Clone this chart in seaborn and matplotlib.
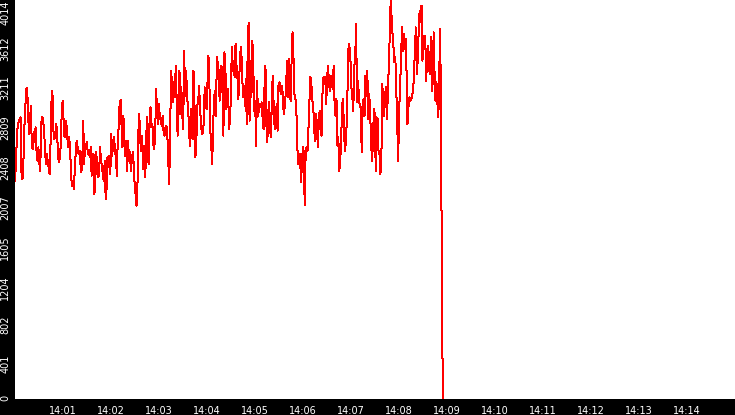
import numpy as np
import pandas as pd
import matplotlib
matplotlib.use("Agg")
import matplotlib.pyplot as plt
import matplotlib.dates as mdates
from matplotlib.transforms import ScaledTranslation
import seaborn as sns

# ---- data ----
values_a = [
    2197, 2364, 2632, 2766, 2783, 2817, 2833, 2247, 2214, 2381, 2733, 2934, 3118, 3128, 2867, 2666,
    2783, 2951, 2532, 2515, 2683, 2582, 2733, 2498, 2398, 2532, 2381, 2297, 2766, 2833, 2817, 2716,
    2532, 2364, 2465, 2398, 2331, 2264, 2565, 2984, 3101, 2716, 2616, 2632, 2766, 2699, 2448, 2381,
    2431, 2565, 2884, 3001, 2800, 2632, 2800, 2766, 2632, 2532, 2632, 2515, 2247, 2147, 2197, 2113,
    2314, 2482, 2599, 2532, 2465, 2498, 2364, 2281, 2398, 2800, 2364, 2565, 2549, 2582, 2465, 2482,
    2431, 2532, 2247, 2415, 2465, 2063, 2281, 2482, 2264, 2230, 2264, 2532, 2398, 2348, 2247, 2197,
    2398, 2013, 2113, 2431, 2331, 2448, 2264, 2666, 2448, 2582, 2632, 2498, 2431, 2247, 2632, 2733,
    2984, 3008, 2750, 2532, 2850, 2632, 2448, 2599, 2297, 2599, 2398, 2482, 2297, 2398, 2482, 2364,
    2163, 2063, 1946, 2130, 2683, 2867, 2599, 2498, 2649, 2314, 2549, 2230, 2364, 2833, 2482, 2364,
    2800, 2934, 2733, 2766, 2565, 2515, 2666, 3118, 2900, 2766, 2967, 2833, 2800, 2750, 2850, 2683,
    2649, 2733, 2750, 2666, 2398, 2163, 2666, 3303, 3185, 2984, 3185, 3034, 3353, 3001, 2649, 3034,
    3303, 2867, 3135, 2850, 2716, 3504, 3051, 3303, 3101, 2917, 2800, 2549, 2917, 2649, 2616, 3303,
    3001, 2431, 2565, 2951, 2984, 3152, 2917, 2783, 2666, 2683, 2783, 3135, 3001, 2917, 3185, 3453,
    3185, 2699, 2549, 2364, 2733, 3018, 3101, 2850, 3437, 3370, 3236, 3001, 3353, 3085, 3336, 2649,
    3487, 3403, 2917, 3118, 3118, 2716, 2800, 3034, 3537, 3303,
]
values_b = [
    3403, 3236, 3571, 3353, 3252, 3018, 3252, 3470, 3537, 3286, 3034, 3152, 2951, 3219, 2766, 3554,
    3788, 2800, 3403, 3034, 3604, 3336, 2900, 3001, 2549, 3202, 2850, 2900, 2967, 2934, 2984, 2817,
    2716, 3135, 3353, 2766, 2582, 2884, 2984, 2699, 2632, 3118, 3252, 2850, 2716, 2833, 2967, 2699,
    3169, 3185, 3101, 3068, 3152, 2934, 2867, 3001, 3085, 3403, 3034, 3420, 3051, 3001, 3420, 3688,
    3437, 3068, 3034, 2934, 2565, 2364, 2448, 2465, 2180, 2364, 2532, 2482, 1946, 2465, 2532, 2498,
    2716, 2967, 3236, 3202, 3001, 2984, 2750, 2599, 2867, 2783, 2532, 2766, 2900, 2716, 2649, 3068,
    3236, 3202, 3236, 2967, 3236, 3353, 3169, 3101, 3252, 3185, 3118, 3353, 2967, 2850, 3018, 2549,
    2632, 2297, 2398, 2599, 2951, 3018, 2716, 2498, 2582, 2783, 3185, 3571, 3537, 3403, 3135, 3034,
    2900, 3336, 3420, 3772, 2984, 3202, 3051, 2934, 2934, 2482, 2900, 3018, 2850, 3252, 3051, 3303,
    2817, 3068, 2900, 2599, 2398, 2565, 2917, 2867, 2297, 2833, 2817, 2498, 2465, 2264, 2364, 3169,
    2984, 2850, 3051, 3135, 2817, 3068, 3370, 3654, 4014, 3839, 3671, 3537, 3386, 3437, 3118, 2783,
    2398, 2850, 3169, 3353, 3738, 3504, 3671, 3520, 3621, 3286, 2766, 2934, 3034, 3001, 3018, 3051,
    3118, 3252, 3554, 3738, 3269, 3420, 3704, 3906, 3788, 3956, 3403, 3654, 3520, 3654, 3202, 3437,
    3554, 3336, 3269, 3638, 3101, 3185, 3688, 3252, 3001, 3185, 2984, 2833, 3286, 3721, 2632, 770, 0,
]
values = values_a + values_b
start_time = "2024-01-01 14:00:00"
end_time = "2024-01-01 14:08:55"
y_max = 4014
y_tick_labels = ["0", "401", "802", "1204", "1605", "2007", "2408", "2809", "3211", "3612", "4014"]

times = pd.date_range(start_time, end_time, periods=len(values))
df = pd.DataFrame({"time": times, "value": values})

# ---- style ----
sns.set_style("white", {
    "axes.facecolor": "white",
    "figure.facecolor": "black",
    "axes.edgecolor": "black",
    "xtick.color": "white",
    "ytick.color": "white",
})
plt.rcParams["font.family"] = ["DejaVu Sans"]

dpi = 100
fig = plt.figure(figsize=(7.35, 4.15), dpi=dpi, facecolor="black")
ax = fig.add_axes([15 / 735, 16 / 415, 720 / 735, 399 / 415])
ax.set_facecolor("white")

sns.lineplot(data=df, x="time", y="value", ax=ax, color="#ff0000",
             linewidth=0.72, antialiased=False, estimator=None)

ax.set_xlim(pd.Timestamp("2024-01-01 14:00:00"), pd.Timestamp("2024-01-01 14:15:00"))
ax.set_ylim(0, y_max)
for s in ax.spines.values():
    s.set_visible(False)

ax.xaxis.set_major_locator(mdates.MinuteLocator())
ax.xaxis.set_major_formatter(mdates.DateFormatter("%H:%M"))
xt = ax.get_xticks()
ax.set_xticks(xt[1:-1])

ticks = np.linspace(0, y_max, len(y_tick_labels))
ax.set_yticks(ticks)
ax.set_yticklabels(y_tick_labels)

ax.tick_params(axis="x", length=4.2, width=0.75, pad=0.6, labelsize=7, labelcolor="white")
ax.tick_params(axis="y", length=3, width=0.75, pad=0.5, labelsize=7, labelcolor="white")
ax.set_xlabel("")
ax.set_ylabel("")

labels = ax.get_yticklabels()
for i, lab in enumerate(labels):
    lab.set_rotation(90)
    lab.set_va("top")
    lab.set_ha("right")
    if i < len(labels) - 1:
        lab.set_transform(lab.get_transform() + ScaledTranslation(0, 4 / dpi, fig.dpi_scale_trans))

fig.savefig("out.png", dpi=dpi, facecolor="black")
